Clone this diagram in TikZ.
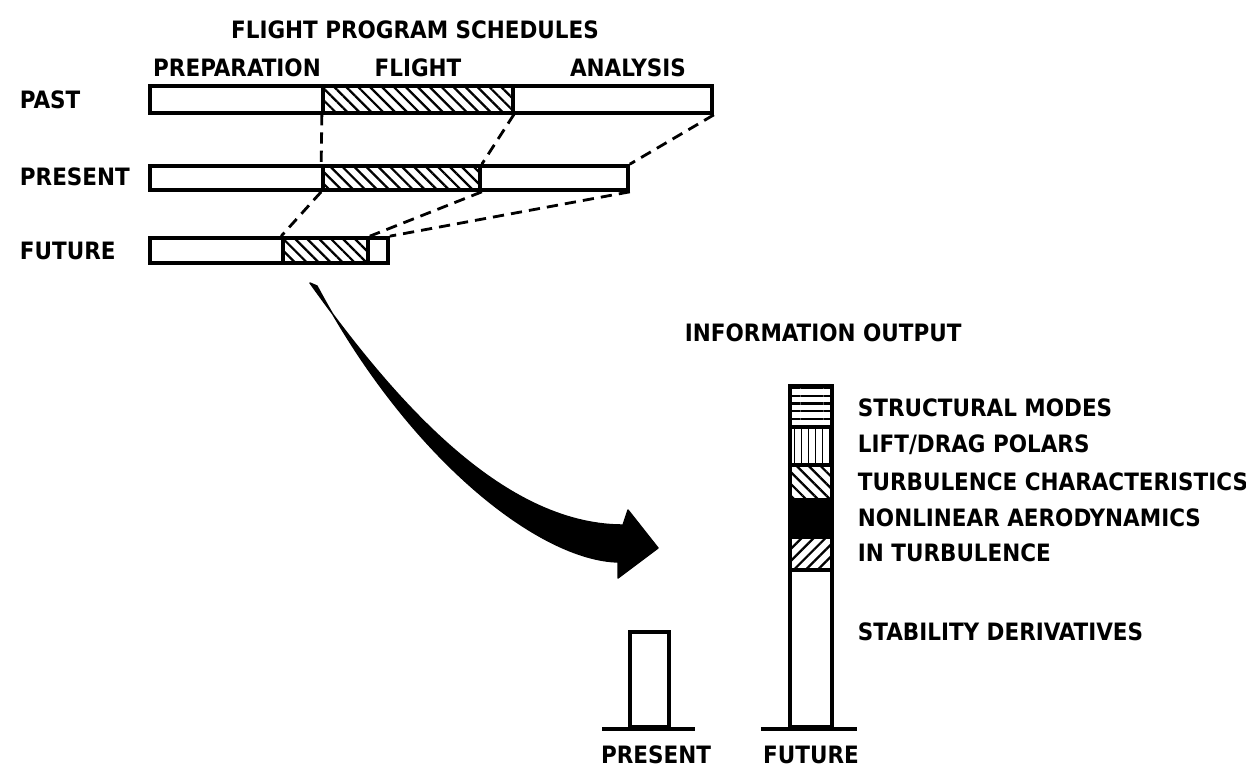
\documentclass[tikz,border=0pt]{standalone}
\usepackage{fontspec}
\newfontfamily\lbl{DejaVu Sans Condensed}
\usepackage{tikz}
\usetikzlibrary{patterns.meta,fit,calc}

\begin{document}
\begin{tikzpicture}[x=0.025cm, y=-0.025cm,
  font=\lbl\bfseries\fontsize{17}{20}\selectfont,
  bar/.style={draw, line width=2.6pt, inner sep=0pt},
  flt/.style={bar, pattern={Lines[angle=-45,distance=6pt,line width=1.6pt]}},
  link/.style={line width=2pt, dash pattern=on 8pt off 5pt},
  col/.style={draw, line width=2.6pt, inner sep=0pt},
  base/.style={line width=3pt}]
\useasboundingbox (0,0) rectangle (1246,767);
% schedules
\node (title) at (415,30) {FLIGHT PROGRAM SCHEDULES};
\node (hPrep) at (237,68) {PREPARATION};
\node (hFlt) at (418,68) {FLIGHT};
\node (hAna) at (628,68) {ANALYSIS};
\node[anchor=west] (lPast) at (15,100) {PAST};
\node[anchor=west] (lPres) at (15,177) {PRESENT};
\node[anchor=west] (lFut) at (15,251) {FUTURE};
\node[bar, fit={(150,86) (323,113)}] (pastP) {};
\node[flt, fit={(323,86) (513,113)}] (pastF) {};
\node[bar, fit={(513,86) (712,113)}] (pastA) {};
\node[bar, fit={(150,166) (323,190)}] (presP) {};
\node[flt, fit={(323,166) (480,190)}] (presF) {};
\node[bar, fit={(480,166) (628,190)}] (presA) {};
\node[bar, fit={(150,238) (283,263)}] (futP) {};
\node[flt, fit={(283,238) (368,263)}] (futF) {};
\node[bar, fit={(368,238) (388,263)}] (futA) {};
\draw[link] (pastF.south west) -- (presF.north west);
\draw[link] (pastF.south east) -- (presF.north east);
\draw[link] (pastA.south east) -- (presA.north east);
\draw[link] (presF.south west) -- (futF.north west);
\draw[link] (presF.south east) -- (futF.north east);
\draw[link] (presA.south east) -- (futA.north east);
% big arrow
\fill[draw, line width=1pt, line join=round] (310,283) .. controls (390,395) and (500,525) .. (623,525)
  -- (628,510) -- (658,548) -- (618,578) -- (618,562)
  .. controls (540,560) and (410,460) .. (317,286) -- cycle;
% information output
\node[anchor=west] (info) at (680,333) {INFORMATION OUTPUT};
\node[col, fit={(630,632) (669,727)}] (nowCol) {};
\draw[base] ([xshift=-0.65cm]nowCol.south west) -- ([xshift=0.6cm]nowCol.south east);
\node[col, fit={(790,570) (832,727)}] (sStab) {};
\node[col, pattern={Lines[angle=45,distance=6pt,line width=1.6pt]}, fit={(790,537) (832,570)}] (sTurbIn) {};
\node[col, fill=black, fit={(790,500) (832,537)}] (sNonlin) {};
\node[col, pattern={Lines[angle=-45,distance=6pt,line width=1.6pt]}, fit={(790,465) (832,500)}] (sTurb) {};
\node[col, pattern={Lines[angle=90,distance=5pt,line width=1.2pt]}, fit={(790,427) (832,465)}] (sLift) {};
\node[col, pattern={Lines[angle=0,distance=5.5pt,line width=1.6pt]}, fit={(790,386) (832,427)}] (sStruct) {};
\draw[base] ([xshift=-0.68cm]sStab.south west) -- ([xshift=0.58cm]sStab.south east);
\node[anchor=west] (tStruct) at (853,408) {STRUCTURAL MODES};
\node[anchor=west] (tLift) at (853,445) {LIFT/DRAG POLARS};
\node[anchor=west] (tTurb) at (853,482) {TURBULENCE CHARACTERISTICS};
\node[anchor=west] (tNonlin) at (853,518) {NONLINEAR AERODYNAMICS};
\node[anchor=west] (tTurbIn) at (853,553) {IN TURBULENCE};
\node[anchor=west] (tStab) at (853,632) {STABILITY DERIVATIVES};
\node (lNow) at (656,755) {PRESENT};
\node (lFuture) at (811,755) {FUTURE};
\end{tikzpicture}
\end{document}
